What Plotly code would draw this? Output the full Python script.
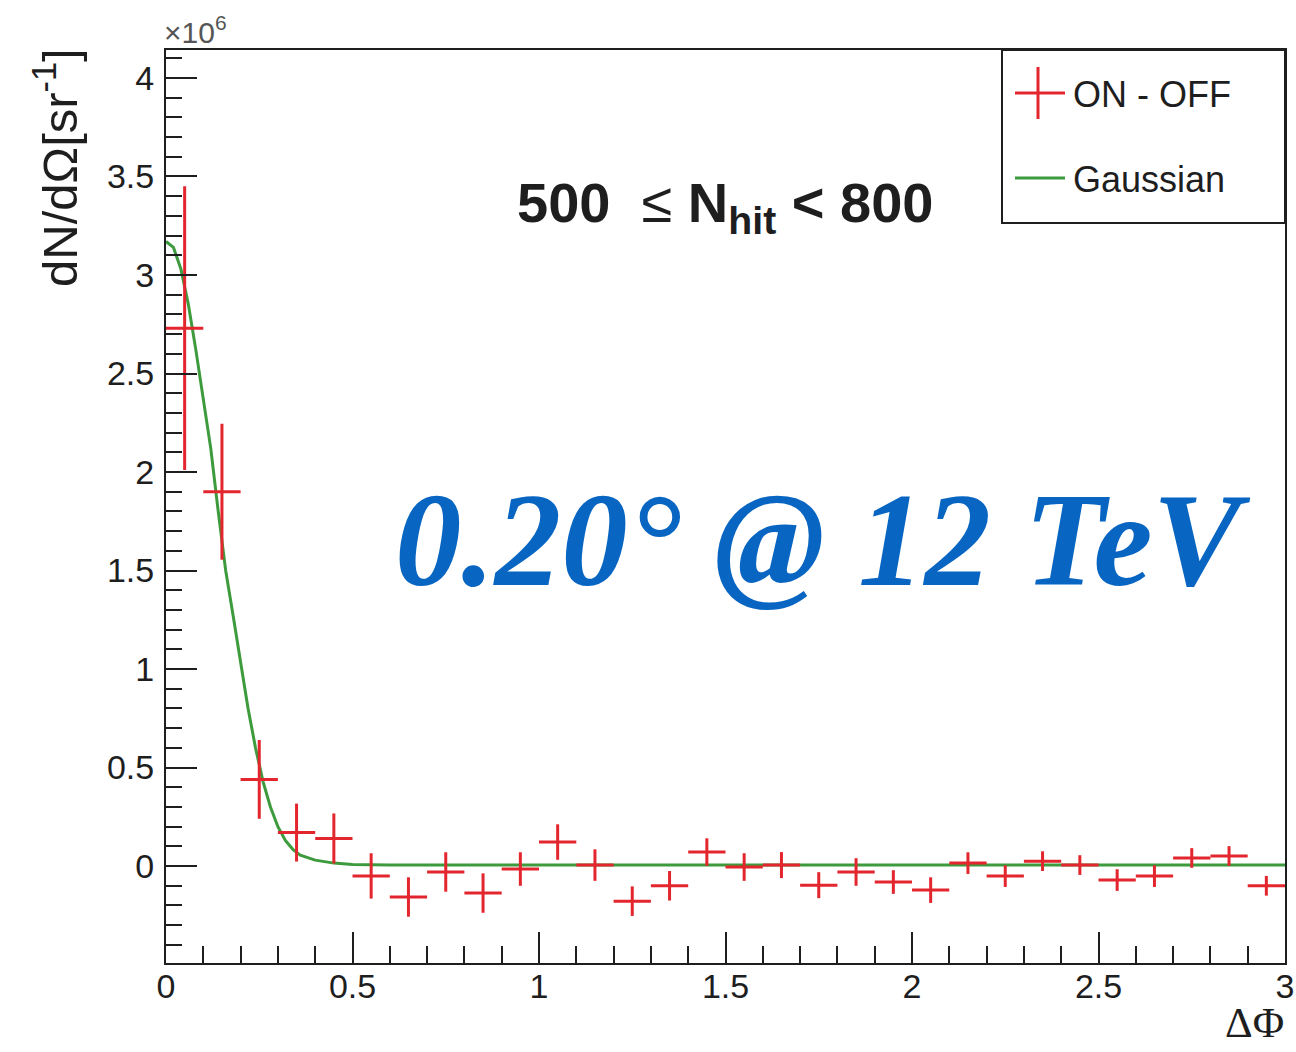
import plotly.graph_objects as go

# ON - OFF excess per DeltaPhi bin (counts per sr, in units of 1e6)
bin_centers = [0.05, 0.15, 0.25, 0.35, 0.45, 0.55, 0.65, 0.75, 0.85, 0.95,
               1.05, 1.15, 1.25, 1.35, 1.45, 1.55, 1.65, 1.75, 1.85, 1.95,
               2.05, 2.15, 2.25, 2.35, 2.45, 2.55, 2.65, 2.75, 2.85, 2.95]
bin_half_width = [0.05] * 30
excess = [2.73, 1.90, 0.44, 0.17, 0.14, -0.05, -0.157, -0.03, -0.137, -0.015,
          0.122, 0.005, -0.178, -0.10, 0.071, -0.005, 0.005, -0.097, -0.03, -0.081,
          -0.122, 0.015, -0.051, 0.025, 0.005, -0.071, -0.051, 0.041, 0.051, -0.10]
excess_err = [0.72, 0.345, 0.20, 0.147, 0.127, 0.115, 0.10, 0.10, 0.10, 0.085,
              0.09, 0.08, 0.075, 0.075, 0.07, 0.07, 0.066, 0.066, 0.07, 0.06,
              0.065, 0.055, 0.055, 0.05, 0.05, 0.055, 0.055, 0.05, 0.05, 0.05]

# Gaussian fit curve sampled along DeltaPhi
fit_x = [0.00, 0.02, 0.04, 0.06, 0.08, 0.10, 0.12, 0.14, 0.16, 0.18, 0.20, 0.22,
         0.24, 0.26, 0.28, 0.30, 0.32, 0.34, 0.36, 0.40, 0.45, 0.50, 0.60, 3.00]
fit_y = [3.17, 3.14, 3.03, 2.85, 2.62, 2.38, 2.12, 1.80, 1.50, 1.27, 1.03, 0.80,
         0.60, 0.43, 0.30, 0.20, 0.13, 0.085, 0.055, 0.03, 0.015, 0.008, 0.005, 0.005]

y_tick_vals = [0, 0.5, 1, 1.5, 2, 2.5, 3, 3.5, 4]
x_tick_vals = [0, 0.5, 1, 1.5, 2, 2.5, 3]

RED = "#e3262e"
GREEN = "#3d9b3d"
INK = "#1e1e1e"
SANS = "Liberation Sans, Arial, Helvetica, sans-serif"
SERIF = "Liberation Serif, Times New Roman, serif"

W, H = 1296, 1052
ML, MR, MT, MB = 166, 11, 50, 89


def px_x(p):
    return (p - ML) / (W - ML - MR)


def px_y(p):
    return (H - MB - p) / (H - MT - MB)


fig = go.Figure()

fig.add_trace(go.Scatter(
    x=fit_x, y=fit_y, mode="lines",
    line=dict(color=GREEN, width=3),
    showlegend=False, hoverinfo="skip",
))

fig.add_trace(go.Scatter(
    x=bin_centers, y=excess, mode="markers",
    marker=dict(size=1, color=RED),
    error_x=dict(type="data", array=bin_half_width, color=RED, thickness=3, width=0),
    error_y=dict(type="data", array=excess_err, color=RED, thickness=3, width=0),
    showlegend=False,
))

axis_common = dict(
    showline=True, linecolor=INK, linewidth=2, mirror=True,
    ticks="inside", ticklen=31, tickwidth=2, tickcolor=INK,
    showgrid=False, zeroline=False, automargin=False,
    tickfont=dict(family=SANS, size=34, color=INK),
)

fig.update_xaxes(
    range=[0, 3], tickvals=x_tick_vals, ticklabelstandoff=-8,
    minor=dict(ticks="inside", ticklen=17, tickwidth=2, tickcolor=INK, dtick=0.1, tick0=0),
    **axis_common,
)
fig.update_yaxes(
    range=[-0.492, 4.142], tickvals=y_tick_vals, ticklabelstandoff=3,
    minor=dict(ticks="inside", ticklen=16, tickwidth=2, tickcolor=INK, dtick=0.1, tick0=0),
    **axis_common,
)

annotations = [
    # axis scale factor
    dict(x=px_x(162), y=px_y(51), xref="paper", yref="paper", xanchor="left", yanchor="bottom",
         text="×10<sup>6</sup>", showarrow=False, font=dict(family=SANS, size=30, color="#555")),
    # y title
    dict(x=px_x(56), y=px_y(168), xref="paper", yref="paper", xanchor="center", yanchor="middle",
         text="dN/dΩ[sr<sup>-1</sup>]", textangle=-90, showarrow=False,
         font=dict(family=SANS, size=49, color=INK)),
    # x title
    dict(x=px_x(1286), y=px_y(1022), xref="paper", yref="paper", xanchor="right", yanchor="middle",
         text="ΔΦ", showarrow=False, font=dict(family=SERIF, size=43, color=INK)),
    # Nhit range
    dict(x=px_x(725), y=px_y(207), xref="paper", yref="paper", xanchor="center", yanchor="middle",
         text="<b>500</b>  ≤ <b>N<sub>hit</sub> &lt; 800</b>", showarrow=False,
         font=dict(family=SANS, size=56, color=INK)),
    # angular resolution label
    dict(x=px_x(823), y=px_y(540), xref="paper", yref="paper", xanchor="center", yanchor="middle",
         text="<b><i>0.20° @ 12 TeV</i></b>", showarrow=False,
         font=dict(family=SERIF, size=133, color="#0866c2")),
    # legend entries
    dict(x=px_x(1071), y=px_y(95), xref="paper", yref="paper", xanchor="left", yanchor="middle",
         text="ON - OFF", showarrow=False, font=dict(family=SANS, size=36, color=INK)),
    dict(x=px_x(1071), y=px_y(180), xref="paper", yref="paper", xanchor="left", yanchor="middle",
         text="Gaussian", showarrow=False, font=dict(family=SANS, size=36, color=INK)),
]

shapes = [
    # legend frame
    dict(type="rect", xref="paper", yref="paper",
         x0=px_x(1002), x1=1, y0=px_y(223), y1=1,
         line=dict(color=INK, width=2), fillcolor="white", layer="above"),
    # legend cross symbol
    dict(type="line", xref="paper", yref="paper",
         x0=px_x(1015), x1=px_x(1065), y0=px_y(93), y1=px_y(93),
         line=dict(color=RED, width=3)),
    dict(type="line", xref="paper", yref="paper",
         x0=px_x(1038), x1=px_x(1038), y0=px_y(67), y1=px_y(119),
         line=dict(color=RED, width=3)),
    # legend line symbol
    dict(type="line", xref="paper", yref="paper",
         x0=px_x(1015), x1=px_x(1065), y0=px_y(178), y1=px_y(178),
         line=dict(color=GREEN, width=3)),
]

fig.update_layout(
    width=W, height=H,
    margin=dict(l=ML, r=MR, t=MT, b=MB, pad=0),
    paper_bgcolor="white", plot_bgcolor="white",
    annotations=annotations, shapes=shapes,
    showlegend=False,
)

fig.write_html("out.html")
